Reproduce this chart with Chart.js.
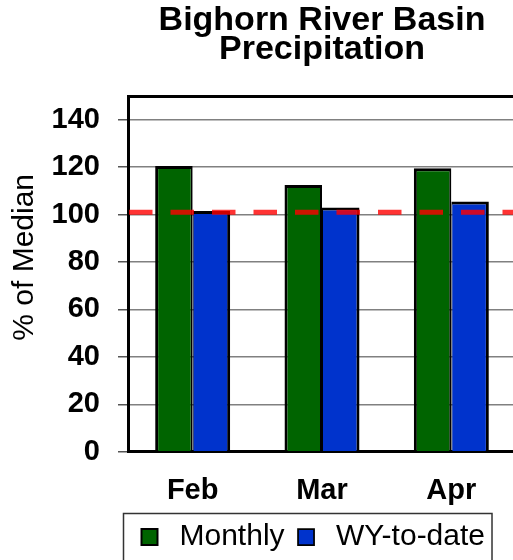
<!DOCTYPE html>
<html>
<head>
<meta charset="utf-8">
<script src="https://cdn.jsdelivr.net/npm/chart.js@4/dist/chart.umd.min.js"></script>
<style>
html,body{margin:0;padding:0;overflow:hidden;background:#fff;}
canvas{display:block;}
</style>
</head>
<body>
<canvas id="c" width="516" height="562"></canvas>
<script>
const categories = ['Feb', 'Mar', 'Apr'];
const monthly = [120.5, 112.5, 119.5];
const wyToDate = [101.5, 103, 105.5];
const medianLine = 101;
const yTicks = [0, 20, 40, 60, 80, 100, 120, 140, 150];
const yMin = 0, yMax = 150;
const titleLines = ['Bighorn River Basin', 'Precipitation'];
const yAxisTitle = '% of Median';
const seriesNames = ['Monthly', 'WY-to-date'];

const FONT = '"Liberation Sans", Arial, sans-serif';

const extras = {
  id: 'extras',
  afterDatasetsDraw(chart) {
    const ctx = chart.ctx;
    const ca = chart.chartArea;
    const y = chart.scales.y.getPixelForValue(medianLine);
    ctx.save();
    ctx.beginPath();
    ctx.rect(ca.left, ca.top, ca.right - ca.left, ca.bottom - ca.top);
    ctx.clip();
    ctx.strokeStyle = 'rgba(255,0,0,0.8)';
    ctx.lineWidth = 5;
    ctx.setLineDash([23.5, 18]);
    ctx.beginPath();
    ctx.moveTo(ca.left + 1, y);
    ctx.lineTo(ca.right, y);
    ctx.stroke();
    ctx.restore();
  },
  afterDraw(chart) {
    const ctx = chart.ctx;
    const ca = chart.chartArea;
    // y axis title
    ctx.save();
    ctx.fillStyle = '#000';
    ctx.font = '30px ' + FONT;
    ctx.textAlign = 'center';
    ctx.textBaseline = 'middle';
    ctx.translate(25, (ca.top + ca.bottom) / 2 - 16.5);
    ctx.rotate(-Math.PI / 2);
    ctx.fillText(yAxisTitle, 0, 0);
    ctx.restore();
    // legend frame
    const lg = chart.legend;
    const hb = lg.legendHitBoxes;
    if (hb && hb.length) {
      const first = hb[0], last = hb[hb.length - 1];
      const l = first.left - 11, r = last.left + last.width + 7;
      ctx.save();
      ctx.strokeStyle = '#333';
      ctx.lineWidth = 1.5;
      ctx.strokeRect(l, lg.top - 2, r - l, chart.height);
      ctx.restore();
    }
  }
};

new Chart(document.getElementById('c'), {
  type: 'bar',
  data: {
    labels: categories,
    datasets: [
      {
        label: seriesNames[0],
        data: monthly,
        backgroundColor: '#006400',
        borderColor: '#000',
        borderWidth: {left: 3, top: 3, right: 2, bottom: 0},
        categoryPercentage: 0.58,
        barPercentage: 1.0
      },
      {
        label: seriesNames[1],
        data: wyToDate,
        backgroundColor: '#0033CC',
        borderColor: '#000',
        borderWidth: {left: 1, top: 3, right: 3, bottom: 0},
        categoryPercentage: 0.58,
        barPercentage: 1.0
      }
    ]
  },
  options: {
    responsive: false,
    animation: false,
    devicePixelRatio: 1,
    layout: {padding: 0},
    scales: {
      x: {
        grid: {display: false},
        border: {display: true, color: '#000', width: 3},
        ticks: {color: '#000', padding: 14, font: {family: FONT, size: 29, weight: 'bold'}},
        afterFit(s) { s.height = 63.8; }
      },
      y: {
        min: yMin, max: yMax,
        afterBuildTicks(s) { s.ticks = yTicks.map((v) => ({value: v})); },
        ticks: {
          color: '#000',
          padding: 18,
          font: {family: FONT, size: 29, weight: 'bold'},
          callback: (v) => (v === yMax ? '' : v)
        },
        grid: {
          color: (c) => (c.tick && c.tick.value === yMax ? '#000' : '#808080'),
          lineWidth: (c) => (c.tick && c.tick.value === yMax ? 3 : 1.5),
          tickColor: (c) => (c.tick && c.tick.value === yMax ? 'rgba(0,0,0,0)' : '#555'),
          tickLength: 10,
          tickWidth: 1.5
        },
        border: {display: true, color: '#000', width: 3},
        afterFit(s) { s.width = 128; }
      }
    },
    plugins: {
      title: {
        display: true,
        text: titleLines,
        fullSize: false,
        color: '#000',
        font: {family: FONT, size: 34, weight: 'bold', lineHeight: 29 / 34},
        padding: {top: 6.5, bottom: 31.5}
      },
      legend: {
        display: true,
        position: 'bottom',
        align: 'start',
        fullSize: false,
        labels: {
          usePointStyle: true,
          pointStyle: 'rect',
          boxHeight: 16,
          boxWidth: 30,
          padding: 6.5,
          color: '#000',
          font: {family: FONT, size: 30}
        }
      },
      tooltip: {enabled: false}
    }
  },
  plugins: [extras]
});
</script>
</body>
</html>
